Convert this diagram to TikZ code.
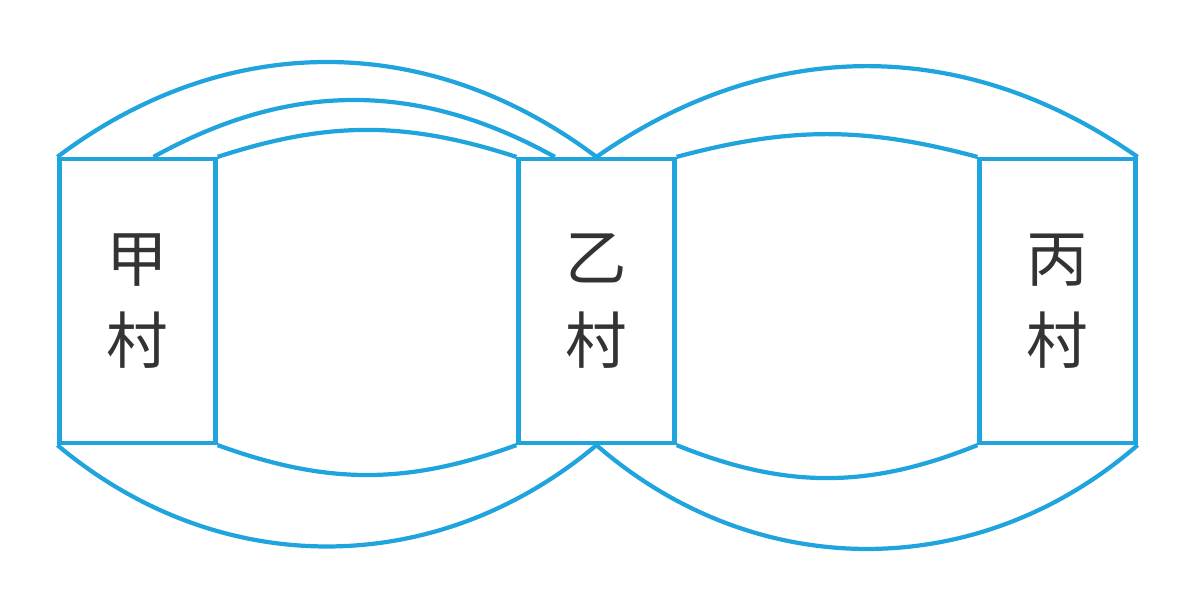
\documentclass[tikz,border=0pt]{standalone}
\usepackage{fontspec}
\newfontfamily\cjk{Noto Sans CJK SC}
\usetikzlibrary{calc}
\definecolor{lakeblue}{RGB}{32,164,222}
\newcommand{\bw}{1.56}
\newcommand{\bh}{2.84}

\begin{document}
\begin{tikzpicture}
\tikzset{lane/.style={draw=lakeblue, line width=1.2pt},
         village/.style={lane, minimum width=\bw cm, minimum height=\bh cm, inner sep=0pt, align=center,
                         font=\cjk\fontsize{17.5}{23.5}\selectfont, text=black!80}}
\useasboundingbox (0,0) rectangle (11.98,-6.11);
\node[village] (jia) at (1.375,-3.01) {甲\\村};
\node[village] (yi) at (5.965,-3.01) {乙\\村};
\node[village] (bing) at (10.575,-3.01) {丙\\村};
\coordinate (m1) at ($(jia.north west)!0.6!(jia.north east)$);
\coordinate (m2) at ($(yi.north west)!0.24!(yi.north east)$);
\foreach \a/\b/\ang in {jia.north west/yi.north/37, m1/m2/29, jia.north east/yi.north west/18,
                        yi.north/bing.north east/35, yi.north east/bing.north west/15}{
\draw[lane] (\a) to[bend left=\ang] (\b);
}
\foreach \a/\b/\ang in {jia.south west/yi.south/40, jia.south east/yi.south west/20,
                        yi.south/bing.south east/41, yi.south east/bing.south west/22}{
\draw[lane] (\a) to[bend right=\ang] (\b);
}
\end{tikzpicture}
\end{document}
